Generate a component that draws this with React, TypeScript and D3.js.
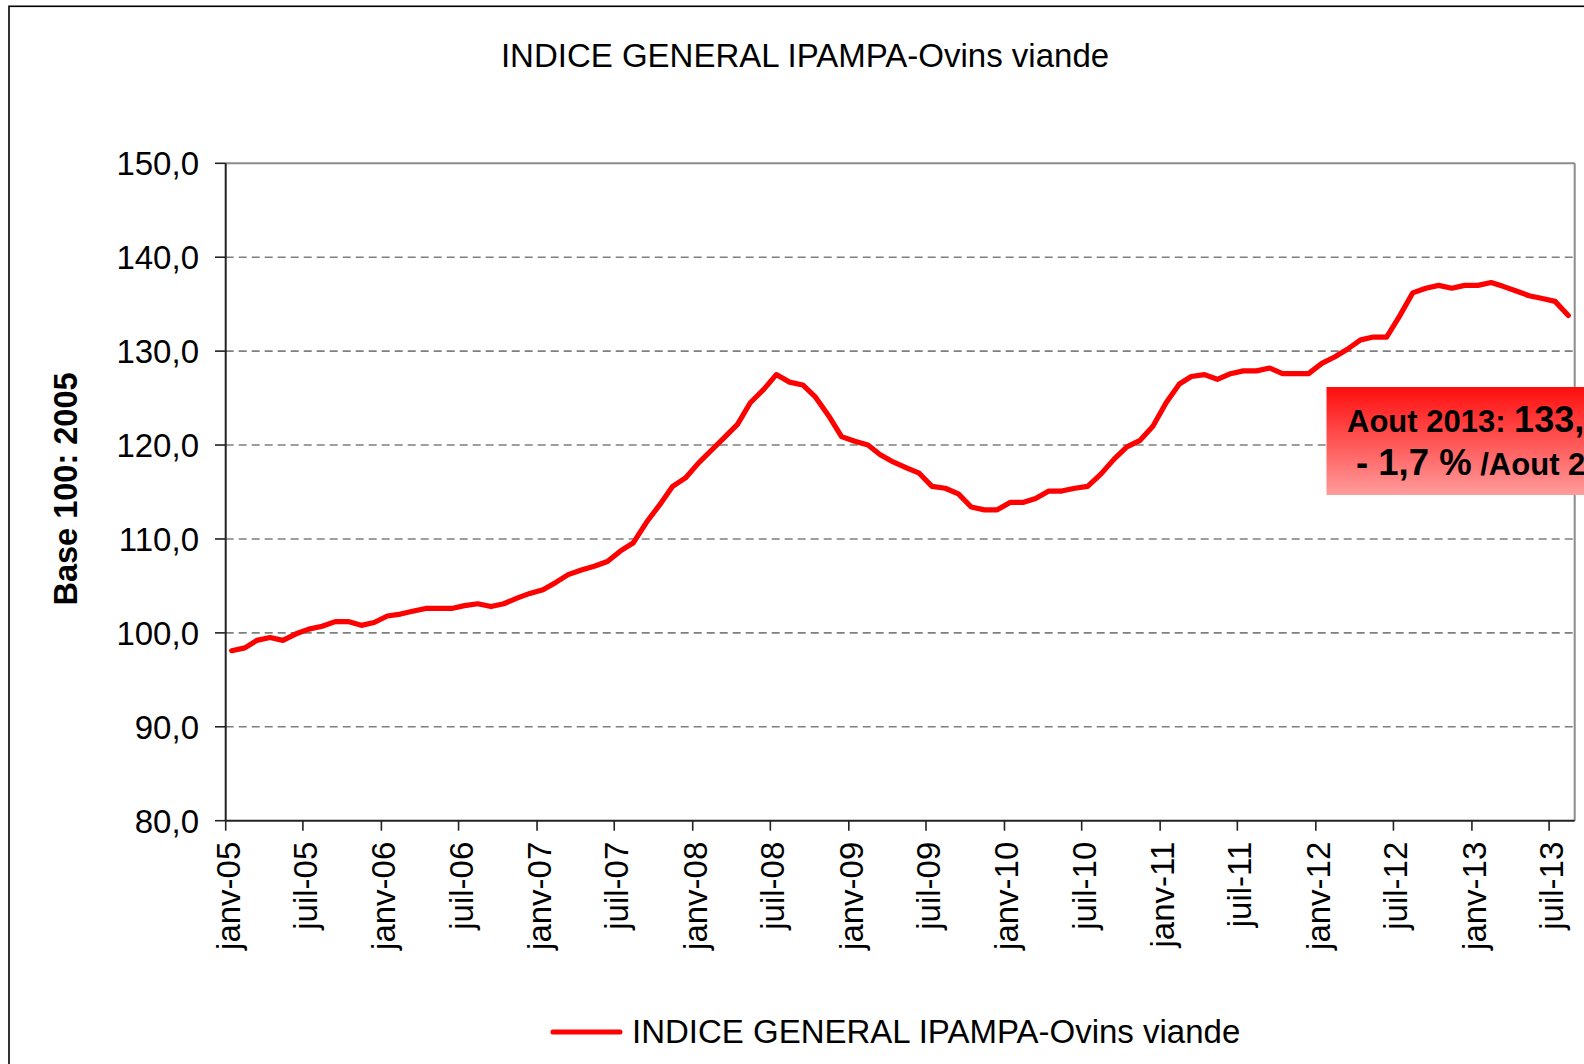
import React from "react";
import * as d3 from "d3";

// Index IPAMPA ovins viande, monthly, janv-05 .. aout-13 (base 100 = 2005)
const startYear = 2005;
const values = [
  98.1, 98.4, 99.2, 99.5, 99.2, 99.9, 100.4, 100.7, 101.2, 101.2, 100.8, 101.1,
  101.8, 102.0, 102.3, 102.6, 102.6, 102.6, 102.9, 103.1, 102.8, 103.1, 103.7, 104.2,
  104.6, 105.4, 106.2, 106.7, 107.1, 107.6, 108.7, 109.6, 111.8, 113.6, 115.6, 116.5,
  118.1, 119.5, 120.8, 122.2, 124.5, 125.9, 127.5, 126.7, 126.4, 125.1, 123.1, 120.9,
  120.4, 120.0, 119.0, 118.2, 117.6, 117.0, 115.6, 115.4, 114.8, 113.4, 113.1, 113.1,
  113.9, 113.9, 114.3, 115.1, 115.1, 115.4, 115.6, 116.9, 118.5, 119.8, 120.5, 122.0,
  124.5, 126.5, 127.3, 127.5, 127.0, 127.6, 127.9, 127.9, 128.2, 127.6, 127.6, 127.6,
  128.7, 129.4, 130.2, 131.2, 131.5, 131.5, 133.7, 136.2, 136.7, 137.0, 136.7, 137.0,
  137.0, 137.3, 136.9, 136.4, 135.9, 135.6, 135.3, 133.8,
];
const yTicks = [80, 90, 100, 110, 120, 130, 140, 150];
const monthNames = ["janv", "févr", "mars", "avr", "mai", "juin", "juil", "août", "sept", "oct", "nov", "déc"];
const seriesName = "INDICE GENERAL IPAMPA-Ovins viande";
const noteLine1 = ["Aout 2013: ", "133,8"];
const noteLine2 = ["- 1,7 %", " /Aout 2012"];

const font = "'Liberation Sans', Arial, sans-serif";

export default function App() {
  const W = 1584;
  const H = 1064;
  const left = 225.7, right = 1574.7, top = 163.3, bottom = 820.7;

  const points = values.map((v, i) => ({ date: new Date(startYear, i, 15), v }));

  const x = d3.scaleTime()
    .domain([new Date(2005, 0, 1), new Date(2013, 7, 30)])
    .range([left, right]);
  const y = d3.scaleLinear().domain([80, 150]).range([bottom, top]);

  const xTicks = x.ticks(d3.timeMonth.every(6));
  const fmtX = (d: Date) => monthNames[d.getMonth()] + "-" + d3.timeFormat("%y")(d);
  const fmtY = (v: number) => d3.format(".1f")(v).replace(".", ",");

  const line = d3.line<{ date: Date; v: number }>()
    .x(d => x(d.date))
    .y(d => y(d.v));

  return (
    <div style={{ position: "absolute", left: 0, top: 0 }}>
      <svg width={W} height={H} style={{ display: "block", background: "#fff" }} fontFamily={font}>
        <defs>
          <linearGradient id="noteGrad" x1="0" y1="0" x2="0" y2="1">
            <stop offset="0%" stopColor="#ff0d0d" />
            <stop offset="100%" stopColor="#ff9c9c" />
          </linearGradient>
        </defs>

        {/* outer chart border */}
        <rect x={9} y={6.3} width={1700} height={1200} fill="none" stroke="#000" strokeWidth={1.6} />

        {/* title */}
        <text x={805} y={66.5} textAnchor="middle" fontSize={33} fill="#000">{seriesName}</text>

        {/* gridlines */}
        {yTicks.filter(t => t > 80 && t < 150).map(t => (
          <line key={t} x1={left} x2={right} y1={y(t)} y2={y(t)} stroke="#7f7f7f" strokeWidth={1.6} strokeDasharray="8,5" />
        ))}

        {/* plot border top / right */}
        <line x1={left} x2={right} y1={top} y2={top} stroke="#8c8c8c" strokeWidth={2} />
        <line x1={right} x2={right} y1={top} y2={bottom} stroke="#8c8c8c" strokeWidth={2} />

        {/* y axis */}
        <line x1={left} x2={left} y1={top} y2={bottom} stroke="#222" strokeWidth={2} />
        {yTicks.map(t => (
          <g key={t}>
            <line x1={215} x2={left} y1={y(t)} y2={y(t)} stroke="#222" strokeWidth={1.6} />
            <text x={199} y={y(t)} dy="0.36em" textAnchor="end" fontSize={33} fill="#000">{fmtY(t)}</text>
          </g>
        ))}

        {/* x axis */}
        <line x1={left} x2={right} y1={bottom} y2={bottom} stroke="#222" strokeWidth={2} />
        {xTicks.map(d => (
          <g key={+d}>
            <line x1={x(d)} x2={x(d)} y1={bottom} y2={bottom + 10} stroke="#222" strokeWidth={1.6} />
            <text
              transform={`translate(${x(d)},${bottom + 21}) rotate(-90)`}
              dy={14}
              textAnchor="end"
              fontSize={33}
              fill="#000"
            >{fmtX(d)}</text>
          </g>
        ))}

        {/* y axis title */}
        <text transform="translate(76.5,489) rotate(-90)" textAnchor="middle" fontSize={32.5} fontWeight="bold" fill="#000">
          Base 100: 2005
        </text>

        {/* series */}
        <path d={line(points) || ""} fill="none" stroke="#ff0000" strokeWidth={5.2} strokeLinejoin="round" strokeLinecap="round" />

        {/* annotation (cut by the right edge, as in the original) */}
        <rect x={1326.5} y={387} width={400} height={108} fill="url(#noteGrad)" />
        <text x={1347} y={431.5} fontWeight="bold" fill="#000">
          <tspan fontSize={31}>{noteLine1[0]}</tspan>
          <tspan fontSize={36}>{noteLine1[1]}</tspan>
        </text>
        <text x={1356} y={474.5} fontWeight="bold" fill="#000">
          <tspan fontSize={36.5}>{noteLine2[0]}</tspan>
          <tspan fontSize={31}>{noteLine2[1]}</tspan>
        </text>

        {/* legend */}
        <line x1={553} x2={620} y1={1032} y2={1032} stroke="#ff0000" strokeWidth={5} strokeLinecap="round" />
        <text x={632} y={1042.5} fontSize={33} fill="#000">{seriesName}</text>
      </svg>
    </div>
  );
}
